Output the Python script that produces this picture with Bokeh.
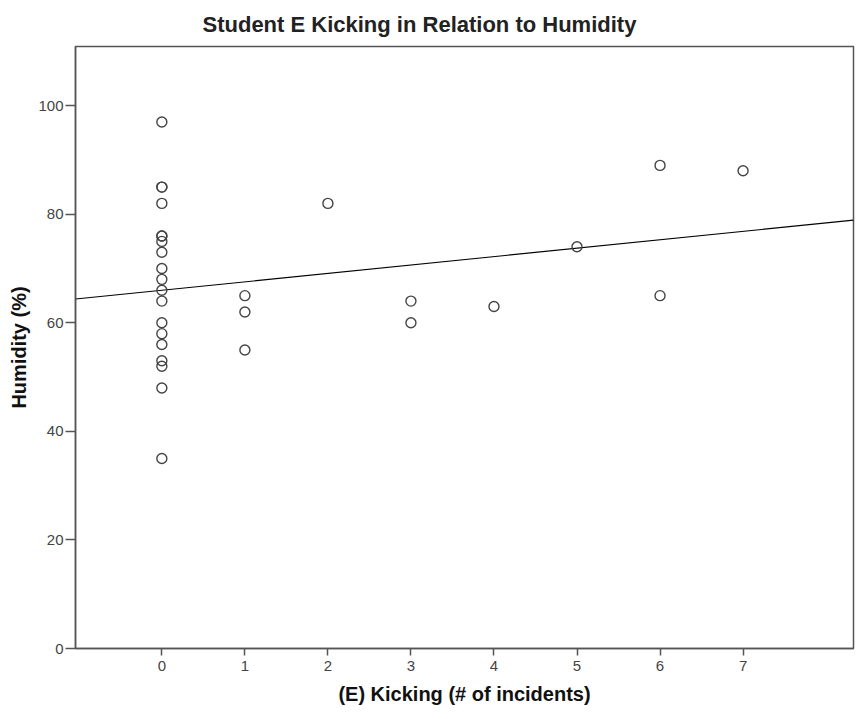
from bokeh.plotting import figure
from bokeh.embed import file_html
from bokeh.resources import INLINE
from bokeh.models import Range1d, FixedTicker, ColumnDataSource

# ---- data ----
kicking = [0]*19 + [1, 1, 1, 2, 3, 3, 4, 5, 6, 6, 7]
humidity = [97, 85, 85, 82, 76, 76, 75, 73, 70, 68, 66, 64, 60, 58, 56, 53, 52, 48, 35,
            65, 62, 55, 82, 64, 60, 63, 74, 89, 65, 88]
fit_intercept = 66.0
fit_slope = 1.55
x_ticks = [0, 1, 2, 3, 4, 5, 6, 7]
y_ticks = [0, 20, 40, 60, 80, 100]

title_text = "Student E Kicking in Relation to Humidity"
x_label = "(E) Kicking (# of incidents)"
y_label = "Humidity (%)"

FONT = "Liberation Sans"

x_start, x_end = -1.04, 8.33
y_start, y_end = 0, 110.9

p = figure(width=858, height=719, output_backend="svg", toolbar_location=None,
           x_range=Range1d(x_start, x_end), y_range=Range1d(y_start, y_end),
           min_border_left=75, min_border_right=5, min_border_top=46, min_border_bottom=71)

p.title.text = title_text
p.title.text_font = FONT
p.title.text_font_size = "22px"
p.title.text_font_style = "bold"
p.title.text_color = "#222222"
p.title.align = "left"
p.title.offset = 127
p.title.standoff = 19

p.background_fill_color = "white"
p.border_fill_color = "white"
p.outline_line_color = "#555555"
p.outline_line_width = 1.5
p.xgrid.visible = False
p.ygrid.visible = False

for ax in (p.xaxis[0], p.yaxis[0]):
    ax.axis_line_color = "#555555"
    ax.axis_line_width = 1.5
    ax.major_tick_line_color = "#555555"
    ax.major_tick_line_width = 1.5
    ax.minor_tick_line_color = None
    ax.major_tick_in = 0
    ax.major_label_text_font = FONT
    ax.major_label_text_font_size = "15px"
    ax.major_label_text_color = "#444444"
    ax.axis_label_text_font = FONT
    ax.axis_label_text_font_style = "bold"
    ax.axis_label_text_color = "#111111"

p.xaxis.ticker = FixedTicker(ticks=x_ticks)
p.yaxis.ticker = FixedTicker(ticks=y_ticks)
p.xaxis.major_tick_out = 7
p.xaxis.major_label_standoff = 5
p.yaxis.major_tick_out = 10
p.yaxis.major_label_standoff = 2
p.xaxis.axis_label = x_label
p.yaxis.axis_label = y_label
p.xaxis.axis_label_text_font_size = "20px"
p.yaxis.axis_label_text_font_size = "20px"
p.xaxis.axis_label_standoff = 9
p.yaxis.axis_label_standoff = 5

# fit line across the frame
fx = [x_start, x_end]
fy = [fit_intercept + fit_slope * v for v in fx]
p.line(fx, fy, line_color="black", line_width=1.1)

src = ColumnDataSource(dict(x=kicking, y=humidity))
p.scatter("x", "y", source=src, marker="circle", size=10, fill_color=None,
          line_color="#444444", line_width=1.4)

open("out.html", "w").write(file_html(p, INLINE))
